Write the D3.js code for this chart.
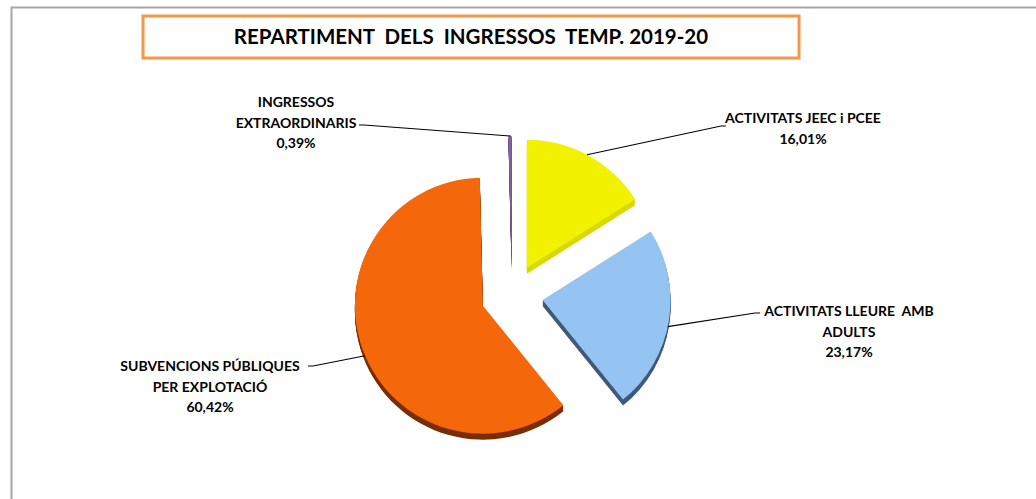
<!DOCTYPE html>
<html>
<head>
<meta charset="utf-8">
<script src="https://d3js.org/d3.v7.min.js"></script>
<style>
  body { margin: 0; background: #fff; }
  svg { display: block; font-family: Lato, "Open Sans", sans-serif; }
</style>
</head>
<body>
<svg width="1036" height="499"></svg>
<script>
// data, in Excel order (clockwise from 12 o'clock)
var categories = ["ACTIVITATS JEEC i PCEE", "ACTIVITATS LLEURE  AMB ADULTS", "SUBVENCIONS PÚBLIQUES PER EXPLOTACIÓ", "INGRESSOS EXTRAORDINARIS"];
var values = [16.01, 23.17, 60.42, 0.39];
var valueLabels = ["16,01%", "23,17%", "60,42%", "0,39%"];
var labelLines = [
  ["ACTIVITATS JEEC i PCEE", "16,01%"],
  ["ACTIVITATS LLEURE  AMB", "ADULTS", "23,17%"],
  ["SUBVENCIONS PÚBLIQUES", "PER EXPLOTACIÓ", "60,42%"],
  ["INGRESSOS", "EXTRAORDINARIS", "0,39%"]
];
var title = "REPARTIMENT  DELS  INGRESSOS  TEMP. 2019-20";

// styles / layout
var topColors = ["#f2f200", "#95c4f2", "#f4670a", "#8064a2"];
var sideColors = ["#d9d900", "#3f5a78", "#7a2e00", "#5a4478"];
var cx = 512, cy = 295, r = 128, explode = 31, depth = 6;
// label text position (centre x, first line y), leader bend point, anchor angle on the arc
var labelPos = [
  {x: 803, y: 123, bx: 721, by: 126, side: "right", ang: 28},
  {x: 849, y: 316, bx: 755, by: 313, side: "right", ang: 102},
  {x: 210, y: 371, bx: 313, by: 366, side: "left", ang: 247},
  {x: 296, y: 107, bx: 364, by: 125, side: "left", ang: 359.6}
];

var svg = d3.select("svg");

// outer frame
svg.append("path")
  .attr("d", "M11.5,499 V7.5 H1036")
  .attr("fill", "none").attr("stroke", "#a6a6a6").attr("stroke-width", 2);

// title box
svg.append("rect")
  .attr("x", 143).attr("y", 16).attr("width", 656).attr("height", 42)
  .attr("fill", "#fff").attr("stroke", "#f79646").attr("stroke-width", 3);
svg.append("text")
  .attr("x", 471).attr("y", 44)
  .attr("text-anchor", "middle")
  .attr("font-size", 20.5).attr("font-weight", "bold")
  .style("white-space", "pre")
  .attr("fill", "#000")
  .text(title);

var pie = d3.pie().sort(null).startAngle(0).endAngle(2 * Math.PI);
var arcs = pie(values);
var arc = d3.arc().innerRadius(0).outerRadius(r);

function offset(d) {
  var m = (d.startAngle + d.endAngle) / 2;
  return [cx + explode * Math.sin(m), cy - explode * Math.cos(m)];
}

var g = svg.append("g");
// draw slices back-to-front so the lower sides sit on top of what's behind
var order = [3, 0, 2, 1];
order.forEach(function(i) {
  var d = arcs[i], o = offset(d);
  var sg = g.append("g").attr("transform", "translate(" + o[0] + "," + o[1] + ")");
  for (var k = depth; k >= 1; k--) {
    sg.append("path")
      .attr("d", arc(d))
      .attr("transform", "translate(0," + k + ")")
      .attr("fill", sideColors[i]);
  }
  sg.append("path")
    .attr("d", arc(d))
    .attr("fill", topColors[i]);
});

// labels with leader lines
arcs.forEach(function(d, i) {
  var p = labelPos[i], o = offset(d);
  var a = p.ang * Math.PI / 180;
  var ax = o[0] + r * Math.sin(a), ay = o[1] - r * Math.cos(a);
  var tail = p.side === "right" ? 5 : -5;
  svg.append("polyline")
    .attr("points", [[ax, ay], [p.bx, p.by], [p.bx + tail, p.by]].map(function(q) { return q.join(","); }).join(" "))
    .attr("fill", "none").attr("stroke", "#000").attr("stroke-width", 1.1);
  var t = svg.append("text")
    .attr("text-anchor", "middle")
    .attr("font-size", 14).attr("font-weight", "bold").attr("fill", "#000")
    .style("white-space", "pre");
  labelLines[i].forEach(function(line, j) {
    t.append("tspan").attr("x", p.x).attr("y", p.y + j * 20.5).text(line);
  });
});
</script>
</body>
</html>
